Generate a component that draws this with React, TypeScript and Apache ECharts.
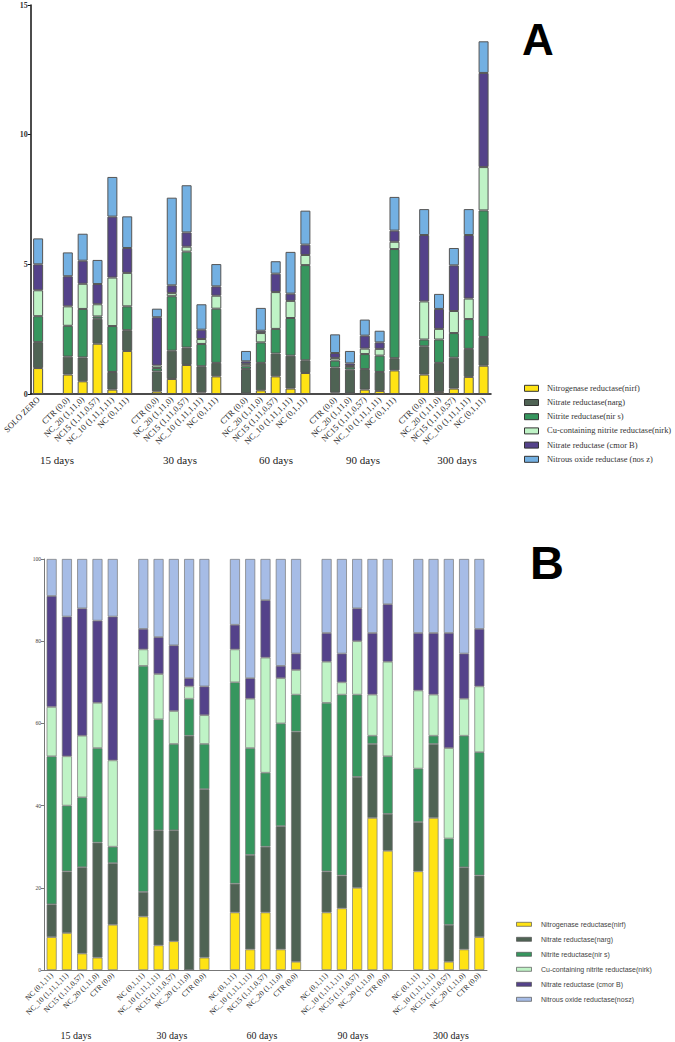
import React, { useEffect, useRef } from "react";
import * as echarts from "echarts";

// ---------- Panel A (absolute abundance) ----------
const groupA = ["CTR (0,0)", "NC_20 (1,11,0)", "NC15 (1,11,0,57)", "NC_10 (1,11,1,11)", "NC (0,1,11)"];
const catsA = [
  "SOLO ZERO", "",
  ...groupA, "",
  ...groupA, "",
  ...groupA, "",
  ...groupA, "",
  ...groupA,
];
const nirfA = [1.0, null, 0.75, 0.49, 1.94, 0.17, 1.66, null, 0.1, 0.58, 1.12, 0.06, 0.68, null, 0.02, 0.14, 0.68, 0.21, 0.81, null, 0.05, 0.02, 0.17, 0.12, 0.91, null, 0.75, 0.08, 0.21, 0.66, 1.09];
const nargA = [1.0, null, 0.69, 0.92, 0.96, 0.68, 0.8, null, 0.77, 1.09, 0.67, 1.01, 0.52, null, 0.94, 1.06, 0.88, 1.27, 0.49, null, 0.97, 0.92, 0.79, 0.73, 0.47, null, 1.09, 1.12, 1.19, 1.08, 1.11];
const nirsA = [1.0, null, 1.19, 1.87, 0.09, 1.77, 0.92, null, 0.13, 2.1, 3.7, 0.86, 2.09, null, 0.11, 0.79, 0.95, 1.45, 3.67, null, 0.27, 0.11, 0.58, 0.63, 4.21, null, 0.26, 0.9, 0.95, 1.15, 4.88];
const nirkA = [1.0, null, 0.75, 0.97, 0.47, 1.87, 1.29, null, 0.1, 0.12, 0.19, 0.19, 0.5, null, 0.09, 0.36, 1.42, 0.66, 0.39, null, 0.1, 0.03, 0.21, 0.26, 0.28, null, 1.47, 0.41, 0.85, 0.79, 1.67];
const cmorA = [1.0, null, 1.16, 0.89, 0.78, 2.35, 0.96, null, 1.86, 0.3, 0.55, 0.36, 0.36, null, 0.1, 0.09, 0.71, 0.28, 0.4, null, 0.19, 0.1, 0.5, 0.25, 0.43, null, 2.56, 0.77, 1.76, 2.45, 3.63];
const noszA = [1.0, null, 0.92, 1.04, 0.93, 1.53, 1.22, null, 0.33, 3.38, 1.82, 0.98, 0.86, null, 0.4, 0.88, 0.48, 1.61, 1.31, null, 0.72, 0.48, 0.62, 0.45, 1.3, null, 1.0, 0.58, 0.67, 1.0, 1.22];
const yTicksA = { min: 0, max: 15, interval: 5 };

// ---------- Panel B (relative abundance, %) ----------
const groupB = ["NC (0,1,11)", "NC_10 (1,11,1,11)", "NC15 (1,11,0,57)", "NC_20 (1,11,0)", "CTR (0,0)"];
const catsB = [...groupB, "", ...groupB, "", ...groupB, "", ...groupB, "", ...groupB];
const nirfB = [8, 9, 4, 3, 11, null, 13, 6, 7, 0, 3, null, 14, 5, 14, 5, 2, null, 14, 15, 20, 37, 29, null, 24, 37, 2, 5, 8];
const nargB = [8, 15, 21, 28, 15, null, 6, 28, 27, 57, 41, null, 7, 23, 16, 30, 56, null, 10, 8, 27, 18, 9, null, 12, 18, 9, 20, 15];
const nirsB = [36, 16, 17, 23, 4, null, 55, 27, 21, 9, 11, null, 49, 26, 18, 25, 9, null, 41, 44, 20, 2, 14, null, 13, 2, 21, 32, 30];
const nirkB = [12, 12, 15, 11, 21, null, 4, 11, 8, 3, 7, null, 8, 12, 28, 11, 6, null, 10, 3, 13, 10, 23, null, 19, 10, 22, 9, 16];
const cmorB = [27, 34, 31, 20, 35, null, 5, 9, 16, 2, 7, null, 6, 5, 14, 3, 4, null, 7, 7, 8, 15, 14, null, 14, 15, 28, 11, 14];
const noszB = [9, 14, 12, 15, 14, null, 17, 19, 21, 29, 31, null, 16, 29, 10, 26, 23, null, 18, 23, 12, 18, 11, null, 18, 18, 18, 23, 17];
const yTicksB = { min: 0, max: 100, interval: 20 };

const dayLabels = ["15 days", "30 days", "60 days", "90 days", "300 days"];
const dayXA = [57, 180, 276, 363, 457];
const dayXB = [76, 172, 262, 353, 451];

const legendA = [
  "Nitrogenase reductase(nirf)",
  "Nitrate reductase(narg)",
  "Nitrite reductase(nir s)",
  "Cu-containing nitrite reductase(nirk)",
  "Nitrate reductase (cmor B)",
  "Nitrous oxide reductase (nos z)",
];
const legendB = [
  "Nitrogenase reductase(nirf)",
  "Nitrate reductase(narg)",
  "Nitrite reductase(nir s)",
  "Cu-containing nitrite reductase(nirk)",
  "Nitrate reductase (cmor B)",
  "Nitrous oxide reductase(nosz)",
];

const colorsA = ["#FFE314", "#4F6354", "#36965E", "#BFF3C6", "#54428A", "#73B0E2"];
const colorsB = ["#FFE314", "#4F6354", "#36965E", "#BFF3C6", "#54428A", "#A6BCE6"];

export default function App() {
  const ref = useRef<HTMLDivElement>(null);
  useEffect(() => {
    document.body.style.margin = "0";
    if (!ref.current) return;
    const chart = echarts.init(ref.current, null, { renderer: "svg" });
    const serif = "Liberation Serif, Times New Roman, serif";
    const sans = "Liberation Sans, Arial, sans-serif";

    const dataA = [nirfA, nargA, nirsA, nirkA, cmorA, noszA];
    const dataB = [nirfB, nargB, nirsB, nirkB, cmorB, noszB];

    const series: any[] = [];
    dataA.forEach((d, i) => {
      series.push({
        type: "bar",
        name: legendA[i] + " A",
        xAxisIndex: 0,
        yAxisIndex: 0,
        stack: "A",
        barWidth: 10,
        data: d,
        itemStyle: { color: colorsA[i], borderColor: "#555", borderWidth: 1 },
      });
    });
    dataB.forEach((d, i) => {
      series.push({
        type: "bar",
        name: legendB[i] + " B",
        xAxisIndex: 1,
        yAxisIndex: 1,
        stack: "B",
        barWidth: 10,
        data: d,
        itemStyle: { color: colorsB[i], borderColor: "#777", borderWidth: 0.7 },
      });
    });

    const graphic: any[] = [];
    graphic.push({
      type: "text",
      left: 522,
      top: 17,
      style: { text: "A", font: `bold 44px ${sans}`, fill: "#000" },
    });
    graphic.push({
      type: "text",
      left: 530,
      top: 539,
      style: { text: "B", font: `bold 47px ${sans}`, fill: "#000" },
    });
    dayLabels.forEach((t, i) => {
      graphic.push({
        type: "text",
        x: dayXA[i],
        y: 460,
        style: { text: t, font: `11px ${serif}`, fill: "#222", align: "center", verticalAlign: "middle" },
      });
      graphic.push({
        type: "text",
        x: dayXB[i],
        y: 1035,
        style: { text: t, font: `10px ${serif}`, fill: "#222", align: "center", verticalAlign: "middle" },
      });
    });
    legendA.forEach((t, i) => {
      const y = 388.3 + i * 14.2;
      graphic.push({
        type: "rect",
        shape: { x: 524.5, y: y - 3, width: 14, height: 6 },
        style: { fill: colorsA[i], stroke: "#333", lineWidth: 1 },
      });
      graphic.push({
        type: "text",
        x: 547,
        y: y,
        scaleX: 1.06,
        style: { text: t, font: `8px ${serif}`, fill: "#333", verticalAlign: "middle" },
      });
    });
    legendB.forEach((t, i) => {
      const y = 924.3 + i * 15;
      graphic.push({
        type: "rect",
        shape: { x: 516.5, y: y - 2, width: 15, height: 4 },
        style: { fill: colorsB[i], stroke: "#555", lineWidth: 0.7 },
      });
      graphic.push({
        type: "text",
        x: 541,
        y: y,
        style: { text: t, font: `7px ${sans}`, fill: "#444", verticalAlign: "middle" },
      });
    });

    const xAxisCommon = (data: string[], gi: number, fs: number, color: string, lw: number) => ({
      type: "category",
      gridIndex: gi,
      data,
      axisLine: { lineStyle: { color, width: lw } },
      axisTick: { alignWithLabel: true, interval: 0, length: 3, lineStyle: { color, width: lw > 1 ? 1 : 0.7 } },
      axisLabel: { interval: 0, rotate: 45, fontSize: fs, fontFamily: serif, color: "#222", margin: 4 },
    });

    const option: any = {
      animation: false,
      grid: [
        { left: 26, top: 5, width: 465, height: 389 },
        { left: 44, top: 559, width: 443, height: 411 },
      ],
      xAxis: [xAxisCommon(catsA, 0, 8.5, "#111", 1.5), xAxisCommon(catsB, 1, 7.5, "#777", 1)],
      yAxis: [
        {
          type: "value",
          gridIndex: 0,
          ...yTicksA,
          splitLine: { show: false },
          axisLine: { show: true, lineStyle: { color: "#111", width: 1.5 } },
          axisTick: { show: true, length: 3, lineStyle: { color: "#111" } },
          axisLabel: { fontSize: 8, fontWeight: "bold", fontFamily: serif, color: "#333", margin: 3 },
        },
        {
          type: "value",
          gridIndex: 1,
          ...yTicksB,
          splitLine: { show: false },
          axisLine: { show: true, lineStyle: { color: "#777", width: 1 } },
          axisTick: { show: true, length: 3, lineStyle: { color: "#777" } },
          axisLabel: { fontSize: 5.5, fontFamily: serif, color: "#444", margin: 3 },
        },
      ],
      series,
      graphic,
    };
    chart.setOption(option);
    return () => chart.dispose();
  }, []);
  return <div ref={ref} style={{ width: 675, height: 1042 }} />;
}
